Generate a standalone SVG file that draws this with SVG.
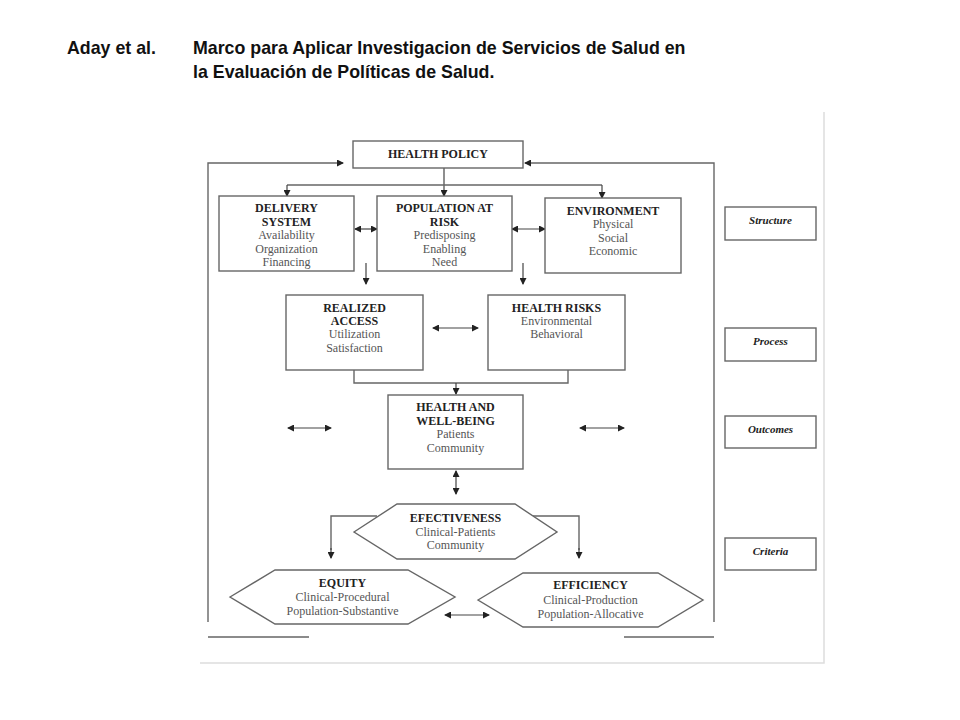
<svg xmlns="http://www.w3.org/2000/svg" width="960" height="720" viewBox="0 0 960 720">
<defs>
<marker id="ah" markerWidth="7" markerHeight="7" refX="6" refY="3.5" orient="auto-start-reverse" markerUnits="userSpaceOnUse">
<path d="M0,0 L7,3.5 L0,7 z" fill="#222"/>
</marker>
<style>
.title{font-family:"Liberation Sans",Arial,sans-serif;font-weight:bold;font-size:17.8px;fill:#111}
.box{fill:#fff;stroke:#666;stroke-width:1.4}
.hd{font-family:"Liberation Serif","Times New Roman",serif;font-weight:bold;font-size:12px;fill:#222;text-anchor:middle}
.tx{font-family:"Liberation Serif","Times New Roman",serif;font-size:12px;fill:#555;text-anchor:middle}
.side{font-family:"Liberation Serif","Times New Roman",serif;font-weight:bold;font-style:italic;font-size:11px;fill:#222;text-anchor:middle}
.ln{fill:none;stroke:#666;stroke-width:1.4}
.ar{fill:none;stroke:#444;stroke-width:1.2;marker-end:url(#ah)}
.da{fill:none;stroke:#444;stroke-width:1.2;marker-start:url(#ah);marker-end:url(#ah)}
.frame{fill:none;stroke:#ddd;stroke-width:1.5}
</style>
</defs>
<rect width="960" height="720" fill="#fff"/>
<text class="title" x="67" y="54">Aday et al.</text>
<text class="title" x="193" y="54">Marco para Aplicar Investigacion de Servicios de Salud en</text>
<text class="title" x="193" y="78">la Evaluación de Políticas de Salud.</text>
<path class="frame" d="M824,112 V663 H200"/>
<g id="connectors">
<path class="ln" d="M208,622 V163 H336"/>
<path class="ar" d="M336,163 H343"/>
<path class="ln" d="M714,622 V163 H531"/>
<path class="ar" d="M531,163 H525"/>
<path class="ar" d="M444,168 V196"/>
<path class="ln" d="M287,185 H602"/>
<path class="ar" d="M287,185 V196"/>
<path class="ar" d="M602,185 V198"/>
<path class="da" d="M355,229 H377"/>
<path class="da" d="M512,229 H545"/>
<path class="ar" d="M366,263 V284"/>
<path class="ar" d="M523,263 V284"/>
<path class="da" d="M433,328 H478"/>
<path class="ln" d="M354,370 V383 H568 V370"/>
<path class="ar" d="M456,383 V394"/>
<path class="da" d="M288,428 H331"/>
<path class="da" d="M580,428 H624"/>
<path class="da" d="M456,471 V494"/>
<path class="ln" d="M377,516 H331 V550"/>
<path class="ar" d="M331,548 V558"/>
<path class="ln" d="M533,516 H579 V550"/>
<path class="ar" d="M579,548 V558"/>
<path class="da" d="M445,615 H489"/>
<path class="ln" d="M208,637 H309 M624,637 H714"/>
</g>
<g id="health-policy">
<rect class="box" x="353" y="141" width="170" height="27"/>
<text class="hd" x="438" y="158">HEALTH POLICY</text>
</g>
<g id="delivery-system">
<rect class="box" x="219" y="196" width="135" height="75"/>
<text class="hd" x="286.5" y="212">DELIVERY</text>
<text class="hd" x="286.5" y="226">SYSTEM</text>
<text class="tx" x="286.5" y="239">Availability</text>
<text class="tx" x="286.5" y="253">Organization</text>
<text class="tx" x="286.5" y="266">Financing</text>
</g>
<g id="population-at-risk">
<rect class="box" x="377" y="196" width="135" height="75"/>
<text class="hd" x="444.5" y="212">POPULATION AT</text>
<text class="hd" x="444.5" y="226">RISK</text>
<text class="tx" x="444.5" y="239">Predisposing</text>
<text class="tx" x="444.5" y="253">Enabling</text>
<text class="tx" x="444.5" y="266">Need</text>
</g>
<g id="environment">
<rect class="box" x="545" y="198" width="136" height="75"/>
<text class="hd" x="613" y="215">ENVIRONMENT</text>
<text class="tx" x="613" y="228">Physical</text>
<text class="tx" x="613" y="242">Social</text>
<text class="tx" x="613" y="255">Economic</text>
</g>
<g id="realized-access">
<rect class="box" x="286" y="295" width="137" height="75"/>
<text class="hd" x="354.5" y="312">REALIZED</text>
<text class="hd" x="354.5" y="325">ACCESS</text>
<text class="tx" x="354.5" y="338">Utilization</text>
<text class="tx" x="354.5" y="352">Satisfaction</text>
</g>
<g id="health-risks">
<rect class="box" x="488" y="295" width="137" height="75"/>
<text class="hd" x="556.5" y="312">HEALTH RISKS</text>
<text class="tx" x="556.5" y="325">Environmental</text>
<text class="tx" x="556.5" y="338">Behavioral</text>
</g>
<g id="health-well-being">
<rect class="box" x="388" y="395" width="135" height="74"/>
<text class="hd" x="455.5" y="411">HEALTH AND</text>
<text class="hd" x="455.5" y="425">WELL-BEING</text>
<text class="tx" x="455.5" y="438">Patients</text>
<text class="tx" x="455.5" y="452">Community</text>
</g>
<g id="effectiveness">
<polygon class="box" points="354,532 397,504 515,504 557,532 515,559 397,559"/>
<text class="hd" x="455.5" y="522">EFECTIVENESS</text>
<text class="tx" x="455.5" y="536">Clinical-Patients</text>
<text class="tx" x="455.5" y="549">Community</text>
</g>
<g id="equity">
<polygon class="box" points="230,597 275,570 408,570 455,597 408,624 275,624"/>
<text class="hd" x="342.5" y="587">EQUITY</text>
<text class="tx" x="342.5" y="601">Clinical-Procedural</text>
<text class="tx" x="342.5" y="615">Population-Substantive</text>
</g>
<g id="efficiency">
<polygon class="box" points="478,600 523,573 658,573 703,600 658,627 523,627"/>
<text class="hd" x="590.5" y="589">EFFICIENCY</text>
<text class="tx" x="590.5" y="604">Clinical-Production</text>
<text class="tx" x="590.5" y="618">Population-Allocative</text>
</g>
<g id="structure">
<rect class="box" x="725" y="207" width="91" height="33"/>
<text class="side" x="770.5" y="224">Structure</text>
</g>
<g id="process">
<rect class="box" x="725" y="328" width="91" height="33"/>
<text class="side" x="770.5" y="345">Process</text>
</g>
<g id="outcomes">
<rect class="box" x="725" y="416" width="91" height="32"/>
<text class="side" x="770.5" y="433">Outcomes</text>
</g>
<g id="criteria">
<rect class="box" x="725" y="538" width="91" height="32"/>
<text class="side" x="770.5" y="555">Criteria</text>
</g>
</svg>
